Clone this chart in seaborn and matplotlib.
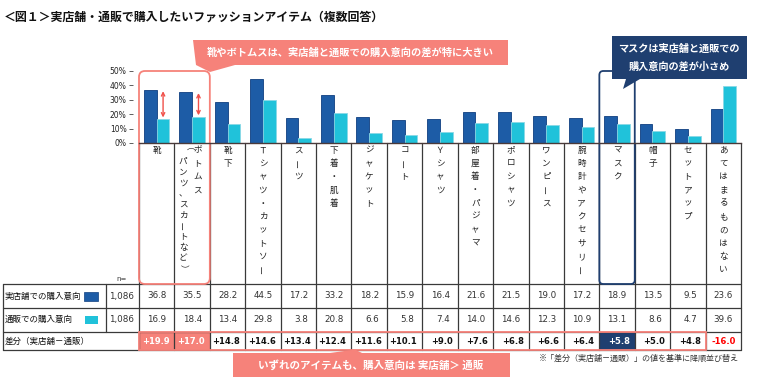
import pandas as pd
import matplotlib.pyplot as plt
import seaborn as sns
from matplotlib.patches import Rectangle, FancyBboxPatch, Polygon

# data
items = ["靴", "ボトムス（パンツ、スカートなど）", "靴下", "Ｔシャツ・カットソー", "スーツ",
         "下着・肌着", "ジャケット", "コート", "Ｙシャツ", "部屋着・パジャマ", "ポロシャツ",
         "ワンピース", "腕時計やアクセサリー", "マスク", "帽子", "セットアップ", "あてはまるものはない"]
store = [36.8, 35.5, 28.2, 44.5, 17.2, 33.2, 18.2, 15.9, 16.4, 21.6, 21.5, 19.0, 17.2, 18.9, 13.5, 9.5, 23.6]
online = [16.9, 18.4, 13.4, 29.8, 3.8, 20.8, 6.6, 5.8, 7.4, 14.0, 14.6, 12.3, 10.9, 13.1, 8.6, 4.7, 39.6]
diff = [19.9, 17.0, 14.8, 14.6, 13.4, 12.4, 11.6, 10.1, 9.0, 7.6, 6.8, 6.6, 6.4, 5.8, 5.0, 4.8, -16.0]
n_resp = "1,086"
series = ["実店舗での購入意向", "通販での購入意向"]

DARK = "#1d5ca6"
CYAN = "#20c2da"
SALMON = "#f6827a"
NAVY = "#1f3f70"
LINE = "#3a3a3a"
JP = ["Noto Sans CJK JP", "DejaVu Sans"]

sns.set_style("white")
plt.rcParams["font.family"] = JP

df = pd.DataFrame({
    "item": items * 2,
    "series": [series[0]] * len(items) + [series[1]] * len(items),
    "value": store + online,
})

fig = plt.figure(figsize=(7.6, 3.92), dpi=100)
bg = fig.add_axes([0, 0, 1, 1])
bg.set_xlim(0, 760)
bg.set_ylim(392, 0)
bg.axis("off")

# bar area
ax = fig.add_axes([139 / 760, 1 - 143 / 392, 602 / 760, 72 / 392])
ax.patch.set_alpha(0)
ax.spines["left"].set_position(("outward", 4))
sns.barplot(data=df, x="item", y="value", hue="series", order=items, hue_order=series,
            palette=[DARK, CYAN], saturation=1, width=0.72, legend=False, ax=ax)
for cont, ec in zip(ax.containers, ["#0f3f80", "#8ad8e6"]):
    for p in cont:
        p.set_edgecolor(ec)
        p.set_linewidth(0.6)
ax.set_xlim(-0.5, len(items) - 0.5)
ax.set_ylim(0, 50)
ax.set_yticks([0, 10, 20, 30, 40, 50])
ax.set_yticklabels([f"{v}%" for v in range(0, 60, 10)], family="DejaVu Sans")
ax.set_xticks([])
ax.set_xlabel("")
ax.set_ylabel("")
for s in ["top", "right", "left"]:
    ax.spines[s].set_visible(False)
ax.spines["bottom"].set_color("#4a3a3a")
ax.spines["bottom"].set_linewidth(1.0)
ax.tick_params(axis="y", left=True, length=3, width=0.6, pad=2, color="#444",
               labelsize=5.5, labelcolor="#222")

# red arrows for the two largest gaps
for i in range(2):
    ax.annotate("", xy=(i + 0.18, store[i] - 0.8), xytext=(i + 0.18, online[i] + 0.8),
                arrowprops=dict(arrowstyle="<->", color="#f0504a", lw=1.0,
                                mutation_scale=6, shrinkA=0, shrinkB=0))

# column grid
x0, x1 = 139, 741
cw = (x1 - x0) / len(items)
xs = [x0 + cw * i for i in range(len(items) + 1)]
for x in xs:
    bg.plot([x, x], [143, 350], color=LINE, lw=0.9, zorder=2)

# vertical category labels
def vtext(x, y0, text, pitch, size=6.2):
    for k, ch in enumerate(text):
        rot = 0
        if ch in "ー":
            rot = 90
        elif ch in "（）":
            rot = -90
        bg.text(x, y0 + k * pitch, ch, ha="center", va="center", rotation=rot,
                rotation_mode="anchor", fontsize=size, color="#222", zorder=3)

for i, name in enumerate(items):
    cx = x0 + cw * (i + 0.5)
    if "（" in name:
        main, sub = name.split("（")
        vtext(cx + 5.5, 150, main, 13.3)
        vtext(cx - 9, 151, "（" + sub, 10.7)
    else:
        vtext(cx, 150, name, 13.3)

bg.text(116, 279, "n=", fontsize=5, va="center", family="DejaVu Sans", color="#333")

# table
rows_y = [284, 307.7, 331.7, 350]
for y in rows_y:
    bg.plot([3, x1], [y, y], color=LINE, lw=0.9, zorder=2)
bg.plot([3, 3], [284, 350], color=LINE, lw=0.9, zorder=2)
bg.plot([105.7, 105.7], [284, 331.7], color=LINE, lw=0.9, zorder=2)

bg.text(5, 296, series[0], fontsize=6.1, va="center", color="#111")
bg.text(5, 319.7, series[1], fontsize=6.1, va="center", color="#111")
bg.text(5, 341, "差分（実店舗－通販）", fontsize=6.1, va="center", color="#111")
bg.add_patch(Rectangle((84, 292), 14, 8.5, facecolor=DARK, edgecolor="#0f3f80", lw=0.5, zorder=3))
bg.add_patch(Rectangle((85, 315.5), 13, 8, facecolor=CYAN, edgecolor="none", zorder=3))
for y in [296, 319.7]:
    bg.text(134, y, n_resp, ha="right", va="center", fontsize=6.3, family="DejaVu Sans", color="#333")

for i in range(len(items)):
    right = xs[i + 1]
    bg.text(right - 8, 296, f"{store[i]:.1f}", ha="right", va="center", fontsize=6.3,
            family="DejaVu Sans", color="#333")
    bg.text(right - 8, 319.7, f"{online[i]:.1f}", ha="right", va="center", fontsize=6.3,
            family="DejaVu Sans", color="#333")
    color = "#111"
    if i < 2:
        bg.add_patch(Rectangle((xs[i], 331.7), cw, 18.3, facecolor=SALMON, edgecolor="none", zorder=1))
        color = "white"
    elif i == 13:
        bg.add_patch(Rectangle((xs[i], 331.7), cw, 18.3, facecolor=NAVY, edgecolor="none", zorder=1))
        color = "white"
    elif diff[i] < 0:
        color = "#ff0000"
    bg.text(right - 5, 341, f"{diff[i]:+.1f}", ha="right", va="center", fontsize=6.0,
            fontweight="bold", family="DejaVu Sans", color=color, zorder=3)

# highlight outlines
bg.add_patch(Rectangle((x0, 331.7), xs[16] - x0, 18.3, facecolor="none", edgecolor=SALMON, lw=1.3, zorder=4))
bg.add_patch(FancyBboxPatch((x0, 71), 2 * cw, 213, boxstyle="round,pad=0,rounding_size=6",
                            facecolor="none", edgecolor=SALMON, lw=1.3, zorder=4))
bg.add_patch(FancyBboxPatch((xs[13], 71), cw, 213, boxstyle="round,pad=0,rounding_size=4",
                            facecolor="none", edgecolor=NAVY, lw=1.3, zorder=4))

# callouts
bg.add_patch(Polygon([(193, 40), (508, 40), (508, 65), (235, 65), (210, 72), (196, 65)],
                     closed=True, facecolor=SALMON, edgecolor="none", zorder=5))
bg.text(350, 53, "靴やボトムスは、実店舗と通販での購入意向の差が特に大きい", ha="center", va="center",
        fontsize=7.4, fontweight="bold", color="white", zorder=6)

bg.add_patch(Polygon([(612, 36), (747, 36), (747, 79), (640, 79), (623, 89), (626, 79), (612, 79)],
                     closed=True, facecolor=NAVY, edgecolor="none", zorder=5))
bg.text(679, 49, "マスクは実店舗と通販での", ha="center", va="center",
        fontsize=7.3, fontweight="bold", color="white", zorder=6)
bg.text(679, 67, "購入意向の差が小さめ", ha="center", va="center",
        fontsize=7.3, fontweight="bold", color="white", zorder=6)

bg.add_patch(Polygon([(233, 353), (330, 353), (355, 349.5), (362, 353), (510, 353), (510, 377), (233, 377)],
                     closed=True, facecolor=SALMON, edgecolor="none", zorder=5))
bg.text(371, 365.5, "いずれのアイテムも、購入意向は 実店舗＞ 通販", ha="center", va="center",
        fontsize=7.6, fontweight="bold", color="white", zorder=6)

bg.text(739, 358, "※「差分（実店舗－通販）」の値を基準に降順並び替え", ha="right", va="center",
        fontsize=5.8, color="#333")

bg.text(4, 17, "＜図１＞実店舗・通販で購入したいファッションアイテム（複数回答）", ha="left", va="center",
        fontsize=8.6, fontweight="bold", color="#111")

fig.savefig("out.png", dpi=100)
